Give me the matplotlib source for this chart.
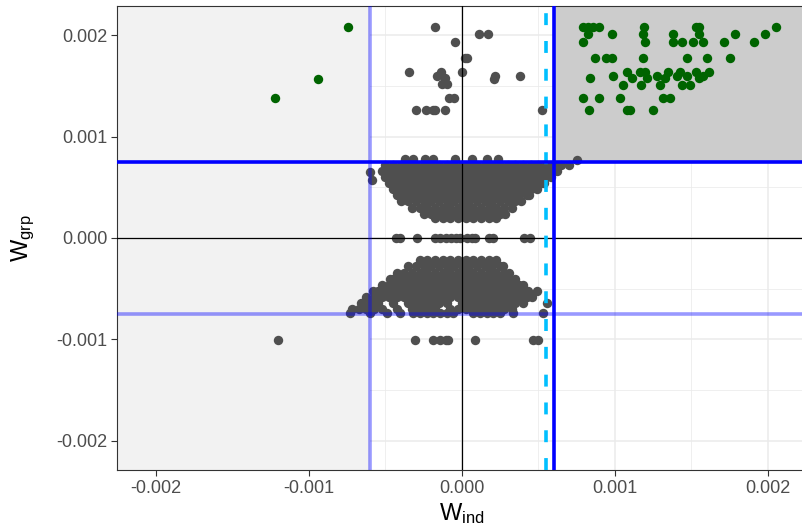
import matplotlib
matplotlib.use("Agg")
import matplotlib.pyplot as plt
from matplotlib.patches import Rectangle
from matplotlib.ticker import FuncFormatter

plt.rcParams['font.family'] = ['Liberation Sans', 'DejaVu Sans']
plt.rcParams['mathtext.fontset'] = 'custom'
plt.rcParams['mathtext.rm'] = 'Liberation Sans'
plt.rcParams['mathtext.it'] = 'Liberation Sans:italic'

# ---------------- data ----------------
# thresholds
x_lo, x_hi, x_dash = -0.0006, 0.0006, 0.00055
y_lo, y_hi = -0.000745, 0.000745

# highlighted (green) points
green_x = [-0.000745, -0.000941, -0.001222,
           0.000791, 0.000824, 0.000856, 0.000895, 0.00119, 0.001529, 0.001549, 0.002052,
           0.000824, 0.00098, 0.001183, 0.001379, 0.001549, 0.001784, 0.00198,
           0.000791, 0.001196, 0.001379, 0.001438, 0.00151, 0.001575, 0.001712, 0.001908,
           0.000869, 0.000941, 0.00098, 0.001183, 0.001471, 0.001601, 0.001752,
           0.001078, 0.001163, 0.001196, 0.001346, 0.001425, 0.001529, 0.001614,
           0.000987, 0.001275, 0.001405, 0.001471, 0.001575,
           0.000837, 0.001111, 0.001209, 0.001327, 0.001549,
           0.001052, 0.00117, 0.001294, 0.001438, 0.00149,
           0.000791, 0.000895, 0.001033, 0.001314, 0.001359,
           0.00083, 0.001078, 0.001098, 0.001248]
green_y = [0.002079, 0.001566, 0.001379,
           0.002079, 0.002079, 0.002079, 0.002079, 0.002079, 0.002079, 0.002079, 0.002079,
           0.00201, 0.00201, 0.00201, 0.00201, 0.00201, 0.00201, 0.00201,
           0.001931, 0.001931, 0.001931, 0.001931, 0.001931, 0.001931, 0.001931, 0.001931,
           0.001773, 0.001773, 0.001773, 0.001773, 0.001773, 0.001773, 0.001773,
           0.001635, 0.001635, 0.001635, 0.001635, 0.001635, 0.001635, 0.001635,
           0.001596, 0.001596, 0.001596, 0.001596, 0.001596,
           0.001576, 0.001576, 0.001576, 0.001576, 0.001576,
           0.001507, 0.001507, 0.001507, 0.001507, 0.001507,
           0.001379, 0.001379, 0.001379, 0.001379, 0.001379,
           0.001261, 0.001261, 0.001261, 0.001261]

# scattered grey points
grey_x = [-0.000176, 0.000111, 0.00017, -0.0000458, 0.0000196, 0.0000327, -0.000346, -0.000137,
          -0.000163, -0.000111, 0.0, 0.000216, 0.000209, 0.000379, -0.000131, -0.000098,
          -0.000085, -0.0000523, -0.000301, -0.000235, -0.00019, -0.000176, -0.000111, 0.000523,
          -0.000373, -0.00032, -0.000242, -0.00019, -0.0000458, 0.0000654, 0.000163, 0.000235,
          0.000752, -0.000601, -0.000588,
          -0.000431, -0.000405, -0.000294, -0.000176, -0.000144, -0.000105, -0.000072, -0.000039,
          -0.000013, 0.0000327, 0.0000654, 0.000085, 0.000176, 0.000203, 0.000405, 0.000444,
          -0.000307, -0.00019, -0.000144, -0.000105, -0.0000915, 0.000085, 0.000464, 0.000497,
          -0.001203]
grey_y = [0.002079, 0.00201, 0.00201, 0.001931, 0.001773, 0.001773, 0.001635, 0.001635,
          0.001596, 0.001576, 0.001635, 0.001596, 0.001566, 0.001596, 0.001517, 0.001517,
          0.001379, 0.001379, 0.001261, 0.001261, 0.001261, 0.001261, 0.001261, 0.001261,
          0.000778, 0.000778, 0.000778, 0.000778, 0.000778, 0.000778, 0.000778, 0.000778,
          0.000768, 0.00065, 0.000571,
          0.0, 0.0, 0.0, 0.0, 0.0, 0.0, 0.0, 0.0,
          0.0, 0.0, 0.0, 0.0, 0.0, 0.0, 0.0, 0.0,
          -0.001005, -0.001005, -0.001005, -0.001005, -0.001005, -0.001005, -0.001005, -0.001005,
          -0.001005]

# dense clouds, read row by row (row level, x positions)
upper_rows_y = [0.00072, 0.00066, 0.0006, 0.00054, 0.00048, 0.00042, 0.00036, 0.0003, 0.00024, 0.0002]
upper_rows_x = [
    [-0.0005, -0.00045, -0.0004, -0.00035, -0.0003, -0.00025, -0.0002, -0.00015, -0.0001, -0.00005, 0.0,
     0.00005, 0.0001, 0.00015, 0.0002, 0.00025, 0.0003, 0.00035, 0.0004, 0.00045, 0.0005, 0.00055, 0.0006,
     0.00065, 0.0007],
    [-0.000525, -0.000475, -0.000425, -0.000375, -0.000325, -0.000275, -0.000225, -0.000175, -0.000125,
     -0.000075, -0.000025, 0.000025, 0.000075, 0.000125, 0.000175, 0.000225, 0.000275, 0.000325, 0.000375,
     0.000425, 0.000475, 0.000525, 0.000575, 0.000625],
    [-0.0005, -0.00045, -0.0004, -0.00035, -0.0003, -0.00025, -0.0002, -0.00015, -0.0001, -0.00005, 0.0,
     0.00005, 0.0001, 0.00015, 0.0002, 0.00025, 0.0003, 0.00035, 0.0004, 0.00045, 0.0005, 0.00055, 0.00058],
    [-0.000475, -0.000425, -0.000375, -0.000325, -0.000275, -0.000225, -0.000175, -0.000125, -0.000075,
     -0.000025, 0.000025, 0.000075, 0.000125, 0.000175, 0.000225, 0.000275, 0.000325, 0.000375, 0.000425,
     0.000475, 0.000525, 0.00054],
    [-0.00045, -0.0004, -0.00035, -0.0003, -0.00025, -0.0002, -0.00015, -0.0001, -0.00005, 0.0, 0.00005,
     0.0001, 0.00015, 0.0002, 0.00025, 0.0003, 0.00035, 0.0004, 0.00045, 0.00049],
    [-0.000425, -0.000375, -0.000325, -0.000275, -0.000225, -0.000175, -0.000125, -0.000075, -0.000025,
     0.000025, 0.000075, 0.000125, 0.000175, 0.000225, 0.000275, 0.000325, 0.000375, 0.000425, 0.00044],
    [-0.0004, -0.00035, -0.0003, -0.00025, -0.0002, -0.00015, -0.0001, -0.00005, 0.0, 0.00005, 0.0001,
     0.00015, 0.0002, 0.00025, 0.0003, 0.00035, 0.00039],
    [-0.000325, -0.000275, -0.000225, -0.000175, -0.000125, -0.000075, -0.000025, 0.000025, 0.000075,
     0.000125, 0.000175, 0.000225, 0.000275, 0.000325],
    [-0.00025, -0.0002, -0.00015, -0.0001, -0.00005, 0.0, 0.00005, 0.0001, 0.00015, 0.0002, 0.00025, 0.00028],
    [-0.000175, -0.000125, -0.000075, -0.000025, 0.000025, 0.000075, 0.000125, 0.000175, 0.000225],
]

lower_rows_y = [-0.00022, -0.00028, -0.00034, -0.0004, -0.00046, -0.00052, -0.00058, -0.00064, -0.0007, -0.00074]
lower_rows_x = [
    [-0.000275, -0.000225, -0.000175, -0.000125, -0.000075, -0.000025, 0.000025, 0.000075, 0.000125,
     0.000175, 0.000225],
    [-0.00035, -0.0003, -0.00025, -0.0002, -0.00015, -0.0001, -0.00005, 0.0, 0.00005, 0.0001, 0.00015,
     0.0002, 0.00025, 0.00027],
    [-0.000425, -0.000375, -0.000325, -0.000275, -0.000225, -0.000175, -0.000125, -0.000075, -0.000025,
     0.000025, 0.000075, 0.000125, 0.000175, 0.000225, 0.000275, 0.00031],
    [-0.00047, -0.00045, -0.0004, -0.00035, -0.0003, -0.00025, -0.0002, -0.00015, -0.0001, -0.00005, 0.0,
     0.00005, 0.0001, 0.00015, 0.0002, 0.00025, 0.0003, 0.00035],
    [-0.000525, -0.000475, -0.000425, -0.000375, -0.000325, -0.000275, -0.000225, -0.000175, -0.000125,
     -0.000075, -0.000025, 0.000025, 0.000075, 0.000125, 0.000175, 0.000225, 0.000275, 0.000325, 0.000375,
     0.0004],
    [-0.00058, -0.00055, -0.0005, -0.00045, -0.0004, -0.00035, -0.0003, -0.00025, -0.0002, -0.00015, -0.0001,
     -0.00005, 0.0, 0.00005, 0.0001, 0.00015, 0.0002, 0.00025, 0.0003, 0.00035, 0.0004, 0.00043, 0.00049],
    [-0.000625, -0.000575, -0.000525, -0.000475, -0.000425, -0.000375, -0.000325, -0.000275, -0.000225,
     -0.000175, -0.000125, -0.000075, -0.000025, 0.000025, 0.000075, 0.000125, 0.000175, 0.000225, 0.000275,
     0.000325, 0.000375, 0.000425, 0.00046],
    [-0.00066, -0.0006, -0.00055, -0.00045, -0.00035, -0.0003, -0.00025, -0.0002, -0.00015, -0.0001, 0.0,
     0.00005, 0.0001, 0.00015, 0.0002, 0.00025, 0.0003, 0.00035, 0.0004, 0.00056],
    [-0.000715, -0.000675, -0.000625, -0.000575, -0.000525, -0.000425, -0.000325, -0.000275, -0.000225,
     -0.000175, -0.000075, -0.000025, 0.000025, 0.000075, 0.000125, 0.000175, 0.000225, 0.000275, 0.000325],
    [-0.000732, -0.000601, -0.00049, -0.000405, -0.00032, -0.000275, -0.000229, -0.00019, -0.000144,
     -0.000098, -0.000059, 0.000072, 0.000118, 0.000163, 0.000203, 0.000248, 0.000333, 0.000529],
]

x_ticks = [-0.002, -0.001, 0.0, 0.001, 0.002]
y_ticks = [-0.002, -0.001, 0.0, 0.001, 0.002]
x_minor = [-0.0015, -0.0005, 0.0005, 0.0015]
y_minor = [-0.0015, -0.0005, 0.0005, 0.0015]
x_limits = (-0.002255, 0.002248)
y_limits = (-0.002286, 0.002286)

# ---------------- plot ----------------
fig = plt.figure(figsize=(8.03, 5.27), dpi=100)
ax = fig.add_axes([117 / 803, 57 / 527, (805.6 - 117) / 803, 464 / 527])
ax.set_xlim(*x_limits)
ax.set_ylim(*y_limits)

ax.set_xticks(x_ticks)
ax.set_yticks(y_ticks)
ax.set_xticks(x_minor, minor=True)
ax.set_yticks(y_minor, minor=True)
fmt = FuncFormatter(lambda v, p: ("%.3f" % v).replace("\u2212", "-") if abs(v) > 1e-12 else "0.000")
ax.xaxis.set_major_formatter(fmt)
ax.yaxis.set_major_formatter(fmt)

ax.set_axisbelow(True)
ax.grid(which='major', color='#ebebeb', lw=1.1, zorder=0)
ax.grid(which='minor', color='#ebebeb', lw=0.55, zorder=0)

ax.tick_params(which='major', length=4.5, width=0.8, color='#333333', labelsize=13,
               labelcolor='#4d4d4d', pad=2.5)
ax.tick_params(which='minor', length=0)
for s in ['left', 'bottom', 'top']:
    ax.spines[s].set_color('#333333')
    ax.spines[s].set_linewidth(0.8)
ax.spines['right'].set_visible(False)

# shaded regions
ax.add_patch(Rectangle((x_limits[0], y_limits[0]), x_lo - x_limits[0], y_limits[1] - y_limits[0],
                       facecolor='#f2f2f2', edgecolor='none', zorder=1))
ax.add_patch(Rectangle((x_hi, y_hi), x_limits[1] - x_hi, y_limits[1] - y_hi,
                       facecolor='#cccccc', edgecolor='none', zorder=1))

S = 46
pt_col = '#4f4f4f'
for yv, xs in zip(upper_rows_y, upper_rows_x):
    ax.scatter(xs, [yv] * len(xs), s=S, color=pt_col, linewidths=0, zorder=2)
for yv, xs in zip(lower_rows_y, lower_rows_x):
    ax.scatter(xs, [yv] * len(xs), s=S, color=pt_col, linewidths=0, zorder=2)
ax.scatter(grey_x, grey_y, s=S, color=pt_col, linewidths=0, zorder=2)
ax.scatter(green_x, green_y, s=S, color='#006400', linewidths=0, zorder=2)

# reference lines
ax.axhline(0, color='black', lw=0.9, zorder=3)
ax.axvline(0, color='black', lw=0.9, zorder=3)
ax.axvline(x_lo, color='blue', alpha=0.4, lw=2.6, zorder=3)
ax.axhline(y_lo, color='blue', alpha=0.4, lw=2.6, zorder=3)
ax.axvline(x_dash, color='#00bfff', lw=2.6, dashes=(3.3, 4.4), zorder=3)
ax.axvline(x_hi, color='blue', lw=2.6, zorder=3)
ax.axhline(y_hi, color='blue', lw=2.6, zorder=3)

ax.set_xlabel(r'$\mathregular{W_{ind}}$', fontsize=17, labelpad=3)
ax.set_ylabel(r'$\mathregular{W_{grp}}$', fontsize=17, labelpad=14)

fig.savefig('out.png', dpi=100)
